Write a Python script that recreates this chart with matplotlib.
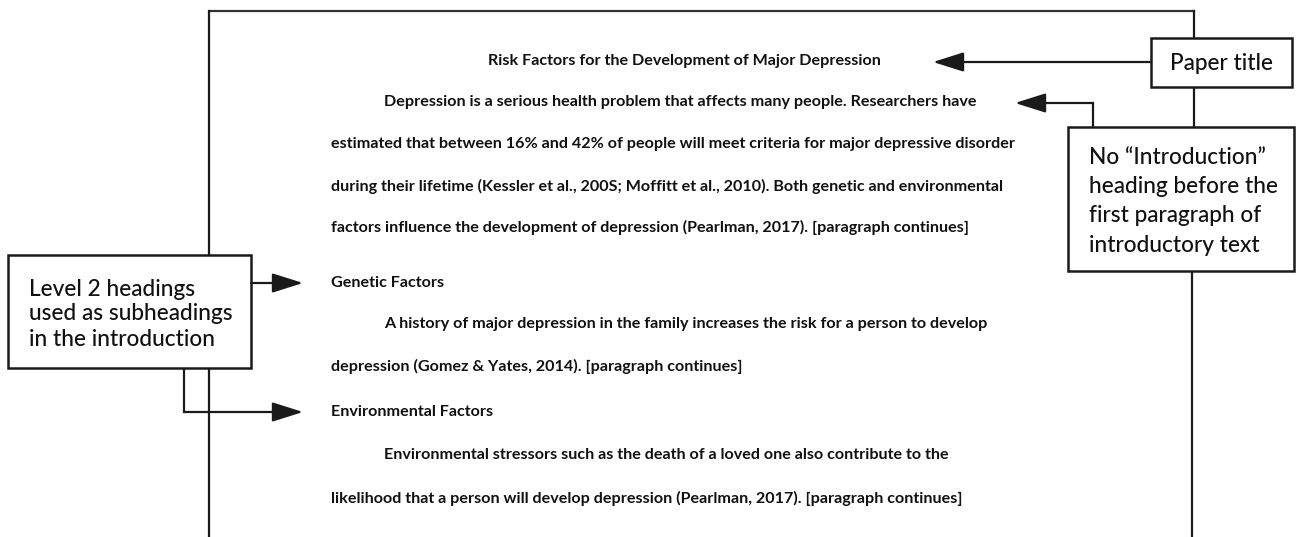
import matplotlib
matplotlib.use("Agg")
import matplotlib.pyplot as plt
from matplotlib.patches import Rectangle, FancyArrowPatch

# ---- content ----
title_text = "Risk Factors for the Development of Major Depression"
body_lines = [
    "Depression is a serious health problem that affects many people. Researchers have",
    "estimated that between 16% and 42% of people will meet criteria for major depressive disorder",
    "during their lifetime (Kessler et al., 200S; Moffitt et al., 2010). Both genetic and environmental",
    "factors influence the development of depression (Pearlman, 2017). [paragraph continues]",
    "Genetic Factors",
    "A history of major depression in the family increases the risk for a person to develop",
    "depression (Gomez & Yates, 2014). [paragraph continues]",
    "Environmental Factors",
    "Environmental stressors such as the death of a loved one also contribute to the",
    "likelihood that a person will develop depression (Pearlman, 2017). [paragraph continues]",
]
body_indent = [True, False, False, False, False, True, False, False, True, False]
callout_title = "Paper title"
callout_intro = ["No \u201cIntroduction\u201d", "heading before the", "first paragraph of", "introductory text"]
callout_level2 = ["Level 2 headings", "used as subheadings", "in the introduction"]

# ---- layout (pixel coordinates) ----
W, H = 1296, 537
fig = plt.figure(figsize=(W / 100, H / 100), dpi=100)
ax = fig.add_axes([0, 0, 1, 1])
ax.set_xlim(0, W)
ax.set_ylim(H, 0)
ax.axis("off")

ink = "#111111"
line_col = "#1a1a1a"
body_font = dict(family="Lato", weight="bold", size=11.6, color=ink)
box_font = dict(family="Lato", weight="medium", size=16.3, color=ink)

# page border
ax.plot([210, 1194], [11, 11], color="#333333", lw=1.6)
ax.plot([209, 209], [11, 255], color=line_col, lw=1.6)
ax.plot([209, 209], [368, 537], color=line_col, lw=1.6)
ax.plot([1194, 1194], [11, 38], color=line_col, lw=1.6)
ax.plot([1194, 1194], [87, 127], color=line_col, lw=1.6)
ax.plot([1192, 1192], [271, 537], color=line_col, lw=1.6)

# title and body
ax.text(684, 61, title_text, ha="center", va="center", **body_font)
ys = [102, 144, 186, 227, 283, 324, 366, 412, 455, 498]
x_left, x_indent = 331, 384
for txt, ind, y in zip(body_lines, body_indent, ys):
    ax.text(x_indent if ind else x_left, y, txt, ha="left", va="center", **body_font)

# callout boxes
def box(x0, y0, x1, y1):
    ax.add_patch(Rectangle((x0, y0), x1 - x0, y1 - y0, fill=True, facecolor="white",
                           edgecolor=line_col, lw=1.8, zorder=3))

box(1151, 38, 1292, 87)
ax.text(1222, 63, callout_title, ha="center", va="center", zorder=4, **box_font)

box(1068, 127, 1294, 271)
for i, t in enumerate(callout_intro):
    ax.text(1089, 157 + i * 29.5, t, ha="left", va="center", zorder=4, **box_font)

box(8, 255, 251, 368)
for i, t in enumerate(callout_level2):
    ax.text(29, 289 + i * 25, t, ha="left", va="center", zorder=4, **box_font)

# arrows
def arrow(p0, p1):
    a = FancyArrowPatch(p0, p1, arrowstyle="-|>,head_length=1.9,head_width=0.6",
                        mutation_scale=10, color=line_col, lw=1.6, shrinkA=0, shrinkB=0, zorder=5)
    ax.add_patch(a)

arrow((1151, 62), (933, 62))
ax.plot([1093, 1093], [127, 103], color=line_col, lw=1.6)
arrow((1093, 103), (1015, 103))
arrow((251, 283), (303, 283))
ax.plot([184, 184], [368, 412], color=line_col, lw=1.6)
arrow((184, 412), (303, 412))

fig.savefig("out.png", dpi=100, facecolor="white")
